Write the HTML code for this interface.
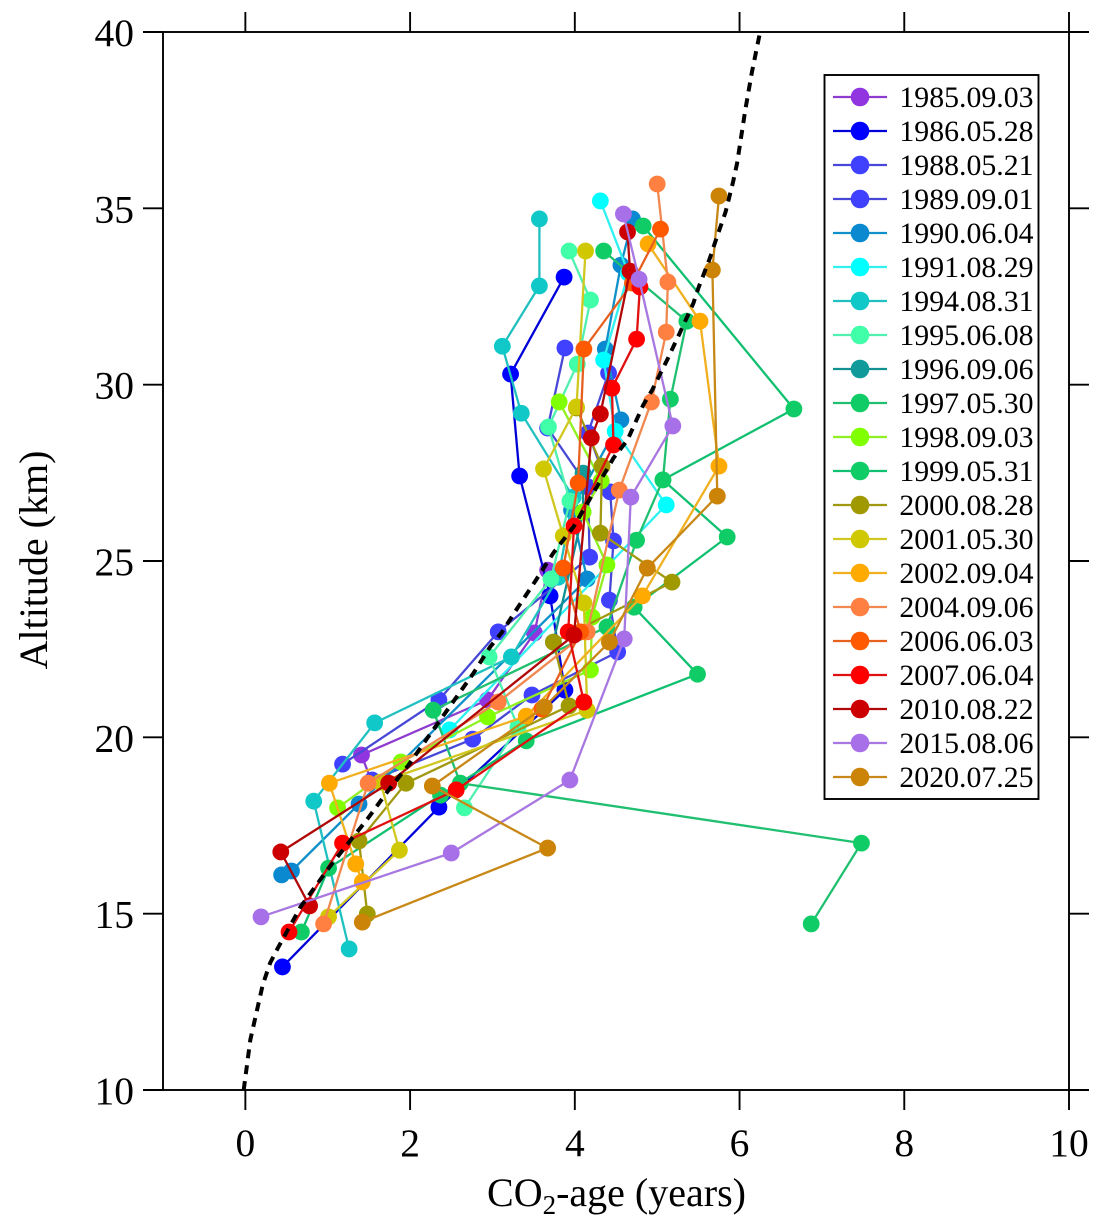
<!DOCTYPE html>
<html lang="en">
<head>
<meta charset="utf-8">
<title>CO2-age vs altitude</title>
<style>
html,body{margin:0;padding:0;background:#fff;}
svg{display:block;font-family:"Liberation Serif",serif;}
</style>
</head>
<body>
<svg id="chart" xmlns="http://www.w3.org/2000/svg" width="1102" height="1230" viewBox="0 0 1102 1230"></svg>
<script>
// Tick labels
const xTickValues = [0, 2, 4, 6, 8, 10];
const yTickValues = [10, 15, 20, 25, 30, 35, 40];

// Categories
const seriesDates = ["1985.09.03","1986.05.28","1988.05.21","1989.09.01","1990.06.04","1991.08.29","1994.08.31","1995.06.08","1996.09.06","1997.05.30","1998.09.03","1999.05.31","2000.08.28","2001.05.30","2002.09.04","2004.09.06","2006.06.03","2007.06.04","2010.08.22","2015.08.06","2020.07.25"];

// Series values: CO2-age (years) and altitude (km)
const age1985 = [3.67,3.51,2.94,1.41,1.53];
const alt1985 = [24.74,22.96,21.06,19.50,18.76];
const age1986 = [3.87,3.22,3.33,3.70,3.88,2.35,0.45];
const alt1986 = [33.05,30.30,27.41,24.01,21.34,18.02,13.49];
const age1988 = [3.88,3.67,4.16,4.18,3.07,2.35,1.18];
const alt1988 = [31.04,28.77,27.10,25.11,22.99,21.06,19.24];
const age1989 = [4.41,4.16,4.43,4.47,4.42,4.52,3.48,2.76,1.54];
const alt1989 = [30.33,28.63,26.96,25.57,23.89,22.42,21.20,19.95,18.79];
const age1990 = [4.70,4.56,4.37,4.56,3.96,4.15,1.38,0.56,0.44];
const alt1990 = [34.70,33.39,31.01,29.00,26.44,24.49,18.11,16.21,16.10];
const age1991 = [4.31,4.65,4.35,4.49,5.11,2.48];
const alt1991 = [35.21,33.16,30.70,28.68,26.59,20.21];
const age1994 = [3.57,3.57,3.12,3.35,3.98,3.80,3.23,1.57,0.83,1.26];
const alt1994 = [34.70,32.80,31.09,29.19,26.81,24.54,22.28,20.41,18.19,14.00];
const age1995 = [3.93,4.19,4.03,3.68,3.94,3.71,2.96,3.31,2.66];
const alt1995 = [33.79,32.40,30.58,28.80,26.70,24.49,22.28,20.29,18.00];
const age1996 = [4.10,4.10,3.74];
const alt1996 = [27.49,26.39,22.70];
const age1997 = [4.35,5.36,5.16,5.07,4.75,4.39,2.28,2.61,7.48,6.87];
const alt1997 = [33.79,31.80,29.59,27.30,25.59,23.13,20.77,18.70,17.00,14.71];
const age1998 = [3.81,4.32,4.10,4.39,4.21,4.19,2.94,1.89,1.12];
const alt1998 = [29.51,27.27,26.39,24.89,23.41,21.91,20.58,19.30,18.00];
const age1999 = [4.83,6.66,5.07,5.85,4.72,5.49,3.41,2.37,1.01,0.68];
const alt1999 = [34.50,29.31,27.30,25.68,23.69,21.79,19.90,18.36,16.29,14.48];
const age2000 = [4.02,4.33,4.31,5.18,3.74,3.93,1.95,1.38,1.48];
const alt2000 = [29.34,27.69,25.79,24.40,22.70,20.89,18.70,17.06,14.99];
const age2001 = [4.13,4.02,3.62,3.86,4.11,4.15,1.64,1.87,1.01];
const alt2001 = [33.79,29.37,27.61,25.71,23.81,20.77,18.73,16.80,14.91];
const age2002 = [4.89,5.52,5.75,4.82,3.41,1.02,1.34,1.42];
const alt2002 = [33.99,31.80,27.69,24.01,20.60,18.70,16.41,15.90];
const age2004 = [5.00,5.13,5.11,4.93,4.54,4.15,3.07,1.49,0.95];
const alt2004 = [35.69,32.91,31.49,29.51,27.01,22.99,21.00,18.70,14.71];
const age2006 = [5.04,4.70,4.11,4.04,3.86,4.07,3.60];
const alt2006 = [34.41,32.88,31.01,27.21,24.80,22.99,20.80];
const age2007 = [4.79,4.75,4.45,4.47,3.99,3.92,4.11,2.56,1.18,0.53];
const alt2007 = [32.77,31.29,29.90,28.29,25.99,22.99,21.00,18.51,17.00,14.48];
const age2010 = [4.64,4.67,4.31,4.20,3.99,1.74,0.43,0.78];
const alt2010 = [34.33,33.22,29.17,28.49,22.90,18.70,16.75,15.22];
const age2015 = [4.59,4.78,5.19,4.68,4.60,3.94,2.50,0.19];
const alt2015 = [34.84,32.99,28.83,26.81,22.79,18.79,16.72,14.91];
const age2020 = [5.75,5.67,5.73,4.88,4.42,3.63,2.27,3.67,1.42];
const alt2020 = [35.35,33.25,26.84,24.80,22.70,20.86,18.62,16.86,14.76];

// Reference curve
const curveAge = [-0.02,0.06,0.21,0.30,0.40,0.67,1.01,1.25,1.49,1.74,1.98,2.21,2.45,2.77,2.97,3.11,3.31,3.52,3.74,3.99,4.16,4.47,4.64,4.83,4.94,5.12,5.28,5.44,5.50,5.64,5.70,5.83,5.92,5.97,6.07,6.15,6.25];
const curveAlt = [10.00,11.42,12.98,13.60,14.05,15.19,16.29,17.00,17.71,18.51,19.21,19.98,20.77,21.82,22.56,22.96,23.69,24.43,25.23,25.99,26.67,27.92,28.43,29.42,29.85,30.70,31.49,32.31,32.74,33.59,34.01,34.89,35.74,36.28,37.79,38.86,40.00];

const seriesAges = [age1985,age1986,age1988,age1989,age1990,age1991,age1994,age1995,age1996,age1997,age1998,age1999,age2000,age2001,age2002,age2004,age2006,age2007,age2010,age2015,age2020];
const seriesAlts = [alt1985,alt1986,alt1988,alt1989,alt1990,alt1991,alt1994,alt1995,alt1996,alt1997,alt1998,alt1999,alt2000,alt2001,alt2002,alt2004,alt2006,alt2007,alt2010,alt2015,alt2020];

// Styles
const markerColors = ["#9035e0","#0000ff","#4040ff","#4040ff","#0a88d0","#00ffff","#10c8c8","#40ffa8","#109a9a","#10cc66","#80ff00","#10cc66","#a09a00","#d0c800","#ffaa00","#ff8040","#ff5a00","#ff0000","#cc0000","#a870e8","#cc8408"];
const lineColors = ["#8e3cd0","#0000d8","#4848d8","#4848d8","#1090c8","#30f0f0","#20c0c0","#50f0b0","#109090","#20c070","#90f020","#10c070","#a09810","#d0c820","#f0b020","#f08850","#e86020","#e01010","#b00808","#a878e0","#c88818"];

const NS = "http://www.w3.org/2000/svg";
const svg = document.getElementById("chart");

const plotLeft = 163, plotRight = 1069, plotTop = 32, plotBottom = 1090;
const xMin = -1, xMax = 10, yMin = 10, yMax = 40;
function xScale(v) { return plotLeft + (v - xMin) / (xMax - xMin) * (plotRight - plotLeft); }
function yScale(v) { return plotBottom - (v - yMin) / (yMax - yMin) * (plotBottom - plotTop); }

function make(tag, attrs, parent) {
  const el = document.createElementNS(NS, tag);
  for (const k in attrs) el.setAttribute(k, attrs[k]);
  (parent || svg).appendChild(el);
  return el;
}

// Frame
const frame = make("rect", {x: plotLeft, y: plotTop, width: plotRight - plotLeft, height: plotBottom - plotTop, fill: "none", stroke: "#000", "stroke-width": 1.9});



// X ticks
xTickValues.forEach(function (v) {
  const x = xScale(v);
  const tb = make("line", {x1: x, x2: x, y1: plotBottom, y2: plotBottom + 20, stroke: "#000", "stroke-width": 1.9});
  
  
  const tt = make("line", {x1: x, x2: x, y1: plotTop, y2: plotTop - 20, stroke: "#000", "stroke-width": 1.9});
  
  
  const lb = make("text", {x: x, y: 1156, "text-anchor": "middle", "font-size": 39.5, fill: "#000"});
  lb.textContent = String(v);
  
  
});

// Y ticks
yTickValues.forEach(function (v) {
  const y = yScale(v);
  const tl = make("line", {x1: plotLeft - 20, x2: plotLeft, y1: y, y2: y, stroke: "#000", "stroke-width": 1.9});
  
  
  const tr = make("line", {x1: plotRight, x2: plotRight + 20, y1: y, y2: y, stroke: "#000", "stroke-width": 1.9});
  
  
  const lb = make("text", {x: 134, y: y + 14, "text-anchor": "end", "font-size": 39.5, fill: "#000"});
  lb.textContent = String(v);
  
  
});

// Axis titles
const yTitle = make("text", {x: 0, y: 0, transform: "translate(47,560) rotate(-90)", "text-anchor": "middle", "font-size": 40, fill: "#000"});
yTitle.textContent = "Altitude (km)";



const xTitle = make("text", {x: 616.5, y: 1206, "text-anchor": "middle", "font-size": 40, fill: "#000"});


const xt1 = make("tspan", {}, xTitle);
xt1.textContent = "CO";
const xt2 = make("tspan", {dy: 8, "font-size": 27}, xTitle);
xt2.textContent = "2";
const xt3 = make("tspan", {dy: -8}, xTitle);
xt3.textContent = "-age (years)";

// Series
seriesDates.forEach(function (date, i) {
  const ages = seriesAges[i], alts = seriesAlts[i];
  const g = make("g", {});
  
  
  const pts = ages.map(function (a, j) { return xScale(a).toFixed(1) + "," + yScale(alts[j]).toFixed(1); }).join(" ");
  const pl = make("polyline", {points: pts, fill: "none", stroke: lineColors[i], "stroke-width": 2.3, "stroke-linejoin": "round"}, g);
  
  
  ages.forEach(function (a, j) {
    const c = make("circle", {cx: xScale(a), cy: yScale(alts[j]), r: 8.4, fill: markerColors[i]}, g);
    
    
  });
});

// Dashed reference curve
const curvePts = curveAge.map(function (a, j) { return xScale(a).toFixed(1) + "," + yScale(curveAlt[j]).toFixed(1); }).join(" ");
const curve = make("polyline", {points: curvePts, fill: "none", stroke: "#000", "stroke-width": 4, "stroke-dasharray": "9 7"});



// Legend
const legend = make("g", {});


const legendBox = make("rect", {x: 824.5, y: 75, width: 214, height: 724, fill: "#fff", stroke: "#000", "stroke-width": 1.9}, legend);


seriesDates.forEach(function (date, i) {
  const y = 97 + i * 34;
  const entry = make("g", {}, legend);
  
  
  make("line", {x1: 833, x2: 887, y1: y, y2: y, stroke: lineColors[i], "stroke-width": 2.3}, entry);
  make("circle", {cx: 860, cy: y, r: 9.3, fill: markerColors[i]}, entry);
  const t = make("text", {x: 1033.5, y: y + 10, "text-anchor": "end", "font-size": 29.8, fill: "#000"}, entry);
  t.textContent = date;
});
</script>
</body>
</html>
